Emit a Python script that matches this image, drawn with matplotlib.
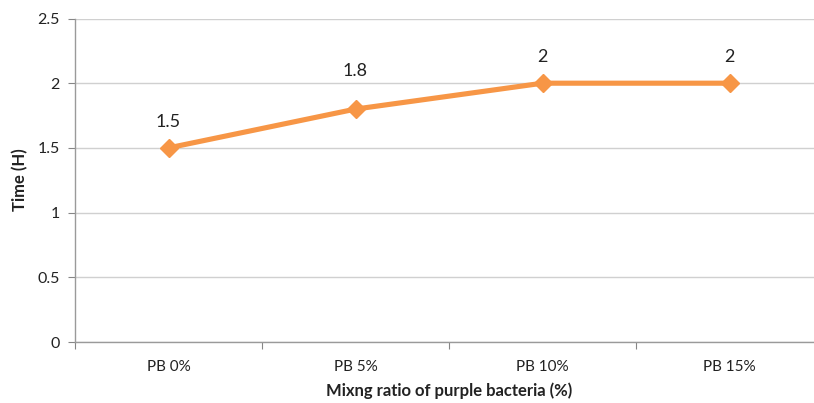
import matplotlib
matplotlib.use("Agg")
import matplotlib.pyplot as plt

categories = ["PB 0%", "PB 5%", "PB 10%", "PB 15%"]
time_h = [1.5, 1.8, 2, 2]
value_labels = ["1.5", "1.8", "2", "2"]
y_ticks = [0, 0.5, 1, 1.5, 2, 2.5]
y_tick_labels = ["0", "0.5", "1", "1.5", "2", "2.5"]

# vertical offset (points) of each value label above its marker
label_offsets = [13, 22, 13, 13]

plt.rcParams["font.family"] = ["Lato", "DejaVu Sans"]

W, H = 814, 403
fig = plt.figure(figsize=(W / 100, H / 100), dpi=100)
ax = fig.add_axes([75 / W, 61 / H, 748 / W, 323.5 / H])

x = list(range(len(categories)))
orange = "#F79646"
ax.plot(x, time_h, color=orange, linewidth=3.7, marker="D", markersize=9.5,
        markerfacecolor=orange, markeredgecolor=orange, zorder=3, clip_on=False)

for xi, yi, lab, off in zip(x, time_h, value_labels, label_offsets):
    ax.annotate(lab, (xi, yi), xytext=(0, off), textcoords="offset points",
                ha="center", va="bottom", fontsize=13, color="#222222")

ax.set_xlim(-0.5, len(categories) - 0.5)
ax.set_ylim(0, 2.5)
ax.set_yticks(y_ticks)
ax.set_yticklabels(y_tick_labels, fontsize=11.5, color="#222222")
ax.set_xticks(x)
ax.set_xticklabels(categories, fontsize=11, color="#222222")
ax.tick_params(axis="x", which="major", length=0, pad=13)
ax.set_xticks([i - 0.5 for i in range(len(categories) + 1)], minor=True)
ax.tick_params(axis="x", which="minor", length=5, color="#868686", width=0.8)
ax.tick_params(axis="y", length=5, color="#868686", width=0.8, pad=6)

ax.grid(axis="y", color="#D0D0D0", linewidth=1.0, zorder=0)
ax.set_axisbelow(True)
for side in ("top", "right"):
    ax.spines[side].set_visible(False)
for side in ("left", "bottom"):
    ax.spines[side].set_color("#9A9A9A")
    ax.spines[side].set_linewidth(1.0)

fig.text(20 / W, 1 - 180 / H, "Time (H)", rotation=90, ha="center", va="center",
         fontsize=12, fontweight="bold", color="#222222")
fig.text(449 / W, 1 - 391 / H, "Mixng ratio of purple bacteria (%)", ha="center",
         va="center", fontsize=12, fontweight="bold", color="#222222")

fig.savefig("out.png", dpi=100)
